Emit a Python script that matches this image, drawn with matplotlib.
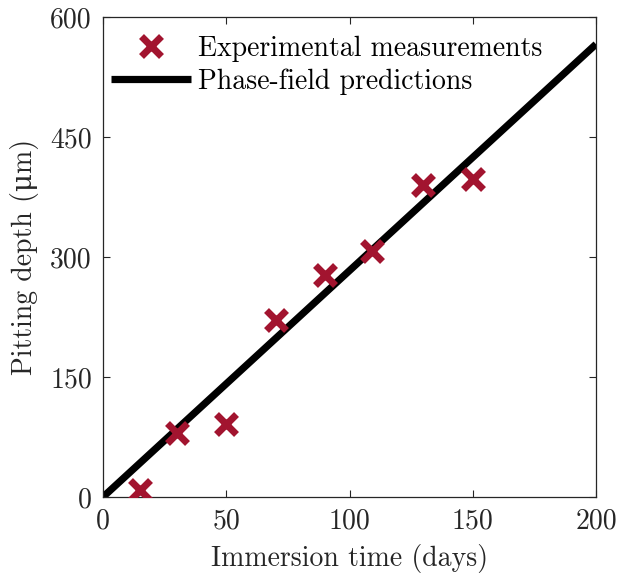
import matplotlib
matplotlib.use("Agg")
import matplotlib.pyplot as plt
import numpy as np

# measured pit depths
days_exp = [15, 30, 50, 70, 90, 109, 130, 150]
depth_exp = [9, 80, 91, 221, 278, 308, 390, 397]

# phase-field model (linear growth)
days_pf = [0, 200]
depth_pf = [0, 566]

x_ticks = [0, 50, 100, 150, 200]
y_ticks = [0, 150, 300, 450, 600]

plt.rcParams["font.family"] = ["cmr10", "DejaVu Serif"]
plt.rcParams["mathtext.fontset"] = "cm"

axis_color = "#262626"
red = "#A2142F"
fs = 20

fig = plt.figure(figsize=(6.19, 5.77), dpi=100)
ax = fig.add_axes([103 / 619, 80 / 577, 493 / 619, 480 / 577])

ax.plot(days_pf, depth_pf, color="black", lw=5.2, solid_capstyle="butt",
        label="Phase-field predictions", zorder=2)
ax.plot(days_exp, depth_exp, linestyle="none", marker="x", ms=15, mew=5,
        color=red, label="Experimental measurements", zorder=3)

ax.set_xlim(0, 200)
ax.set_ylim(0, 600)
ax.set_xticks(x_ticks)
ax.set_yticks(y_ticks)
ax.tick_params(direction="in", top=True, right=True, length=5, width=0.8,
               colors=axis_color, labelsize=fs, pad=8)
for sp in ax.spines.values():
    sp.set_color(axis_color)
    sp.set_linewidth(0.9)

ax.set_xlabel("Immersion time (days)", fontsize=fs, color=axis_color, labelpad=7)
ax.set_ylabel("Pitting depth (\u03bcm)", fontsize=fs, color=axis_color, labelpad=8)

handles, labels = ax.get_legend_handles_labels()
ax.legend(handles[::-1], labels[::-1], loc="upper left", frameon=False,
          fontsize=fs, handlelength=2.88, handletextpad=0.25, borderaxespad=0.15,
          borderpad=0.15, labelspacing=0.23, bbox_to_anchor=(0.0, 0.979))

fig.savefig("out.png", dpi=100)
